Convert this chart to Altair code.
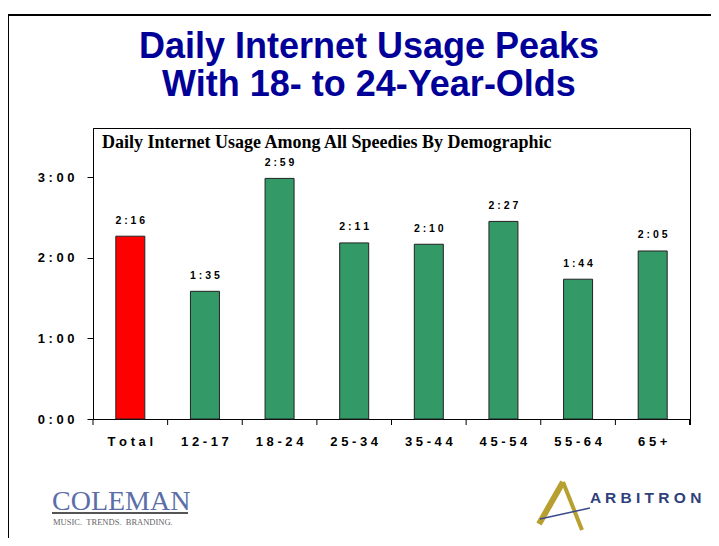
import altair as alt
import pandas as pd

# ---- data ----
groups = ["Total", "12-17", "18-24", "25-34", "35-44", "45-54", "55-64", "65+"]
minutes = [136, 95, 179, 131, 130, 147, 104, 125]   # 2:16, 1:35, 2:59, 2:11, 2:10, 2:27, 1:44, 2:05
y_ticks = [0, 60, 120, 180]

title_lines = ["Daily Internet Usage Peaks", "With 18- to 24-Year-Olds"]
inner_title = "Daily Internet Usage Among All Speedies By Demographic"

df = pd.DataFrame({"group": groups, "minutes": minutes})

W, H = 597, 291
SANS = "Liberation Sans"
SERIF = "Liberation Serif"

x_enc = alt.X("group:N", sort=groups,
              scale=alt.Scale(paddingInner=0, paddingOuter=0),
              axis=alt.Axis(title=None, ticks=False, labelAngle=0,
                            labelExpr="join(split(datum.label, ''), ' ')",
                            labelFont=SANS, labelFontWeight="bold", labelFontSize=13,
                            labelColor="black", labelPadding=16,
                            domainColor="black", domainWidth=1))
y_enc = alt.Y("minutes:Q",
              scale=alt.Scale(domain=[0, 216.5], nice=False, zero=True),
              axis=alt.Axis(title=None, values=y_ticks, grid=False,
                            labelExpr="join(split(floor(datum.value/60) + ':00', ''), ' ')",
                            labelFont=SANS, labelFontWeight="bold", labelFontSize=13,
                            labelColor="black", labelPadding=13,
                            tickSize=6, tickColor="black", tickWidth=1,
                            domainColor="black", domainWidth=1))

base = alt.Chart(df)

bars = base.mark_bar(size=29, stroke="#222222", strokeWidth=1).encode(
    x=x_enc,
    y=y_enc,
    color=alt.condition(alt.datum.group == "Total", alt.value("#FF0000"), alt.value("#339966")),
)

labels = base.transform_calculate(
    t="floor(datum.minutes/60) + ':' + (datum.minutes % 60 < 10 ? '0' : '') + (datum.minutes % 60)"
).transform_calculate(
    ts="join(split(datum.t, ''), ' ')"
).mark_text(font=SANS, fontWeight="bold", fontSize=10.5, color="black",
            baseline="alphabetic", dy=-12.5).encode(
    x=alt.X("group:N", sort=groups), y="minutes:Q", text="ts:N")

# x-axis ticks at category boundaries
tick_rules = base.mark_rule(color="black", strokeWidth=1).encode(
    x=alt.X("group:N", sort=groups, bandPosition=0),
    y=alt.value(H), y2=alt.value(H + 6))
end_tick = base.mark_rule(color="black", strokeWidth=1).encode(
    x=alt.value(W), y=alt.value(H), y2=alt.value(H + 6))

def txt(text, x, y, **kw):
    return alt.Chart(pd.DataFrame({"t": [text]})).mark_text(**kw).encode(
        x=alt.value(x), y=alt.value(y), text="t:N")

title1 = txt(title_lines[0], 276, -81, font=SANS, fontWeight="bold", fontSize=36,
             color="#000099", align="center", baseline="middle")
title2 = txt(title_lines[1], 276, -43, font=SANS, fontWeight="bold", fontSize=36,
             color="#000099", align="center", baseline="middle")
inner = txt(inner_title, 9, 20, font=SERIF, fontWeight="bold", fontSize=18,
            color="black", align="left", baseline="alphabetic")

# slide frame
frame = alt.Chart(pd.DataFrame({"a": [0]})).mark_rect(
    fill=None, stroke="black", strokeWidth=2).encode(
    x=alt.value(-85), y=alt.value(-113), x2=alt.value(700), y2=alt.value(600))

# logos (decoration)
NB = "\u00a0"
coleman = txt("COLEMAN", -41, 382, font=SERIF, fontSize=28, color="#5b6ea8",
              align="left", baseline="alphabetic")
coleman_line = alt.Chart(pd.DataFrame({"a": [0]})).mark_rule(color="#555555", strokeWidth=2).encode(
    x=alt.value(-41), x2=alt.value(95), y=alt.value(385), y2=alt.value(385))
coleman_tag = txt("MUSIC." + NB * 2 + "TRENDS." + NB * 2 + "BRANDING.", -40, 397, font=SERIF,
                  fontSize=8.5, color="#666666", align="left", baseline="alphabetic")
arbitron = txt("A R B I T R O N", 497, 375, font=SANS, fontSize=15.5, fontWeight="bold",
               color="#2f3f7a", align="left", baseline="alphabetic")
a_left = alt.Chart(pd.DataFrame({"a": [0]})).mark_rule(color="#b8a030", strokeWidth=6).encode(
    x=alt.value(470), y=alt.value(354), x2=alt.value(446), y2=alt.value(396))
a_right = alt.Chart(pd.DataFrame({"a": [0]})).mark_rule(color="#b8a030", strokeWidth=4).encode(
    x=alt.value(470), y=alt.value(354), x2=alt.value(489), y2=alt.value(402))
a_swoosh = alt.Chart(pd.DataFrame({"a": [0]})).mark_rule(color="#3a4a8a", strokeWidth=1.5).encode(
    x=alt.value(447), y=alt.value(391), x2=alt.value(497), y2=alt.value(380))

chart = alt.layer(
    frame, bars, labels, tick_rules, end_tick, title1, title2, inner,
    coleman, coleman_line, coleman_tag, a_left, a_right, a_swoosh, arbitron
).properties(
    width=W, height=H,
    padding={"left": 85, "top": 120, "right": 21, "bottom": 119},
    autosize=alt.AutoSizeParams(type="none"),
).configure_view(stroke="black", strokeWidth=1)

chart.save("out.html", embed_options={"renderer": "svg", "actions": False})
